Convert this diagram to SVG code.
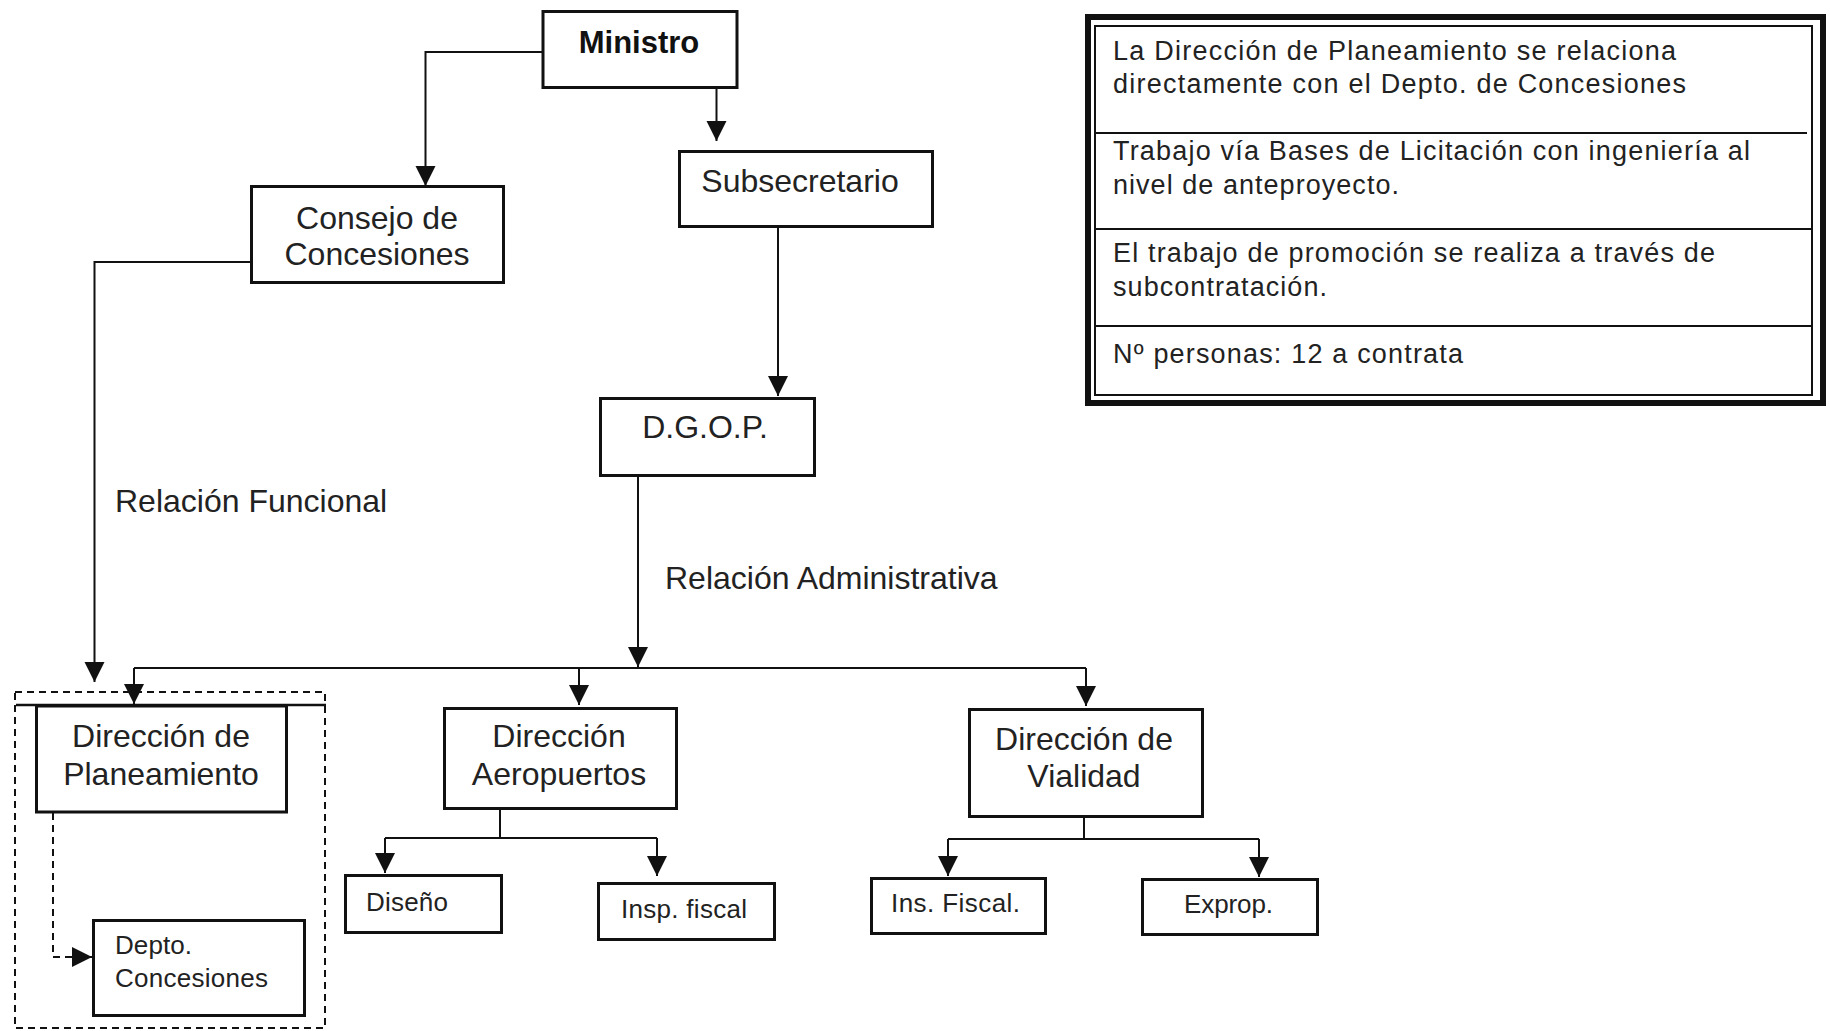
<svg xmlns="http://www.w3.org/2000/svg" width="1830" height="1031" viewBox="0 0 1830 1031">
<style>
  .box { fill: #ffffff; stroke: #111; stroke-width: 3; }
  .lbl { font-family: "Liberation Sans", Arial, sans-serif; font-size: 32px; fill: #222; }
  .sm { font-family: "Liberation Sans", Arial, sans-serif; font-size: 26px; fill: #222; }
  .note { font-family: "Liberation Sans", Arial, sans-serif; font-size: 27px; fill: #222; }
  .bold { font-weight: bold; font-size: 31px; fill: #111; }
  .mid { text-anchor: middle; }
  .conn { fill: none; stroke: #111; stroke-width: 2; }
  .dash { fill: none; stroke: #111; stroke-width: 2; stroke-dasharray: 7 5; }
</style>
<defs>
  <marker id="arr" viewBox="0 0 20 22" refX="20" refY="11" markerWidth="20" markerHeight="22" markerUnits="userSpaceOnUse" orient="auto">
    <path d="M0,1 L20,11 L0,21 z" fill="#111"/>
  </marker>
</defs>
<rect width="1830" height="1031" fill="#ffffff"/>

<g id="connectors">
  <path class="conn" d="M542,52 H425.5 V186" marker-end="url(#arr)"/>
  <path class="conn" d="M716.5,89 V141" stroke-width="3" marker-end="url(#arr)"/>
  <path class="conn" d="M778,228 V396" marker-end="url(#arr)"/>
  <path class="conn" d="M250,262 H94.5 V682" marker-end="url(#arr)"/>
  <path class="conn" d="M638,477 V667" marker-end="url(#arr)"/>
  <path class="conn" d="M134,668 H1086"/>
  <path class="conn" d="M134,668 V704" marker-end="url(#arr)"/>
  <path class="conn" d="M564,668 H594" stroke-width="3"/>
  <path class="conn" d="M579,668 V705" marker-end="url(#arr)"/>
  <path class="conn" d="M1086,668 V706" marker-end="url(#arr)"/>
  <path class="conn" d="M500,810 V838 M385,838 H657"/>
  <path class="conn" d="M385,838 V873" marker-end="url(#arr)"/>
  <path class="conn" d="M657,838 V876" marker-end="url(#arr)"/>
  <path class="conn" d="M1084,808 V839 M948,839 H1259"/>
  <path class="conn" d="M948,839 V876" marker-end="url(#arr)"/>
  <path class="conn" d="M1259,839 V877" marker-end="url(#arr)"/>
  <path class="dash" d="M53,813 V957 H92" marker-end="url(#arr)"/>
</g>

<g id="group-planeamiento">
  <rect class="dash" x="15" y="692" width="310" height="336"/>
  <line x1="16" y1="705" x2="326" y2="705" stroke="#111" stroke-width="2.5"/>
</g>

<g id="ministro">
  <rect class="box" x="543" y="11.5" width="194" height="76"/>
  <text class="lbl bold mid" x="639" y="53">Ministro</text>
</g>
<g id="subsecretario">
  <rect class="box" x="679.5" y="151.5" width="253" height="75"/>
  <text class="lbl mid" x="800" y="192">Subsecretario</text>
</g>
<g id="consejo">
  <rect class="box" x="251.5" y="186.5" width="252" height="96"/>
  <text class="lbl mid" x="377" y="229">Consejo de</text>
  <text class="lbl mid" x="377" y="265">Concesiones</text>
</g>
<g id="dgop">
  <rect class="box" x="600.5" y="398.5" width="214" height="77"/>
  <text class="lbl mid" x="705" y="438">D.G.O.P.</text>
</g>
<g id="label-funcional">
  <text class="lbl" x="115" y="512">Relación Funcional</text>
</g>
<g id="label-administrativa">
  <text class="lbl" x="665" y="589">Relación Administrativa</text>
</g>
<g id="planeamiento">
  <rect class="box" x="36.5" y="706" width="250" height="106"/>
  <text class="lbl mid" x="161" y="747">Dirección de</text>
  <text class="lbl mid" x="161" y="785">Planeamiento</text>
</g>
<g id="aeropuertos">
  <rect class="box" x="444.5" y="708.5" width="232" height="100"/>
  <text class="lbl mid" x="559" y="747">Dirección</text>
  <text class="lbl mid" x="559" y="785">Aeropuertos</text>
</g>
<g id="vialidad">
  <rect class="box" x="969.5" y="709.5" width="233" height="107"/>
  <text class="lbl mid" x="1084" y="750">Dirección de</text>
  <text class="lbl mid" x="1084" y="787">Vialidad</text>
</g>
<g id="diseno">
  <rect class="box" x="345.5" y="875.5" width="156" height="57"/>
  <text class="sm" x="366" y="911" textLength="82">Diseño</text>
</g>
<g id="insp-fiscal">
  <rect class="box" x="598.5" y="883.5" width="176" height="56"/>
  <text class="sm" x="621" y="918" textLength="126">Insp. fiscal</text>
</g>
<g id="ins-fiscal">
  <rect class="box" x="871.5" y="878.5" width="174" height="55"/>
  <text class="sm" x="891" y="912" textLength="129">Ins. Fiscal.</text>
</g>
<g id="exprop">
  <rect class="box" x="1142.5" y="879.5" width="175" height="55"/>
  <text class="sm" x="1184" y="913" textLength="89">Exprop.</text>
</g>
<g id="depto">
  <rect class="box" x="93.5" y="920.5" width="211" height="95"/>
  <text class="sm" x="115" y="954" textLength="77">Depto.</text>
  <text class="sm" x="115" y="987" textLength="153">Concesiones</text>
</g>

<g id="notes">
  <rect x="1088" y="17" width="735" height="386" fill="#ffffff" stroke="#111" stroke-width="6"/>
  <rect x="1095" y="26" width="717" height="369" fill="none" stroke="#111" stroke-width="2"/>
  <line x1="1095" y1="133" x2="1807" y2="133" stroke="#111" stroke-width="2"/>
  <line x1="1095" y1="229" x2="1812" y2="229" stroke="#111" stroke-width="2"/>
  <line x1="1095" y1="326" x2="1812" y2="326" stroke="#111" stroke-width="2"/>
  <text class="note" x="1113" y="60" textLength="563">La Dirección de Planeamiento se relaciona</text>
  <text class="note" x="1113" y="93" textLength="573">directamente con el Depto. de Concesiones</text>
  <text class="note" x="1113" y="160" textLength="637">Trabajo vía Bases de Licitación con ingeniería al</text>
  <text class="note" x="1113" y="194" textLength="286">nivel de anteproyecto.</text>
  <text class="note" x="1113" y="262" textLength="602">El trabajo de promoción se realiza a través de</text>
  <text class="note" x="1113" y="296" textLength="214">subcontratación.</text>
  <text class="note" x="1113" y="363" textLength="350">Nº personas: 12 a contrata</text>
</g>
</svg>
